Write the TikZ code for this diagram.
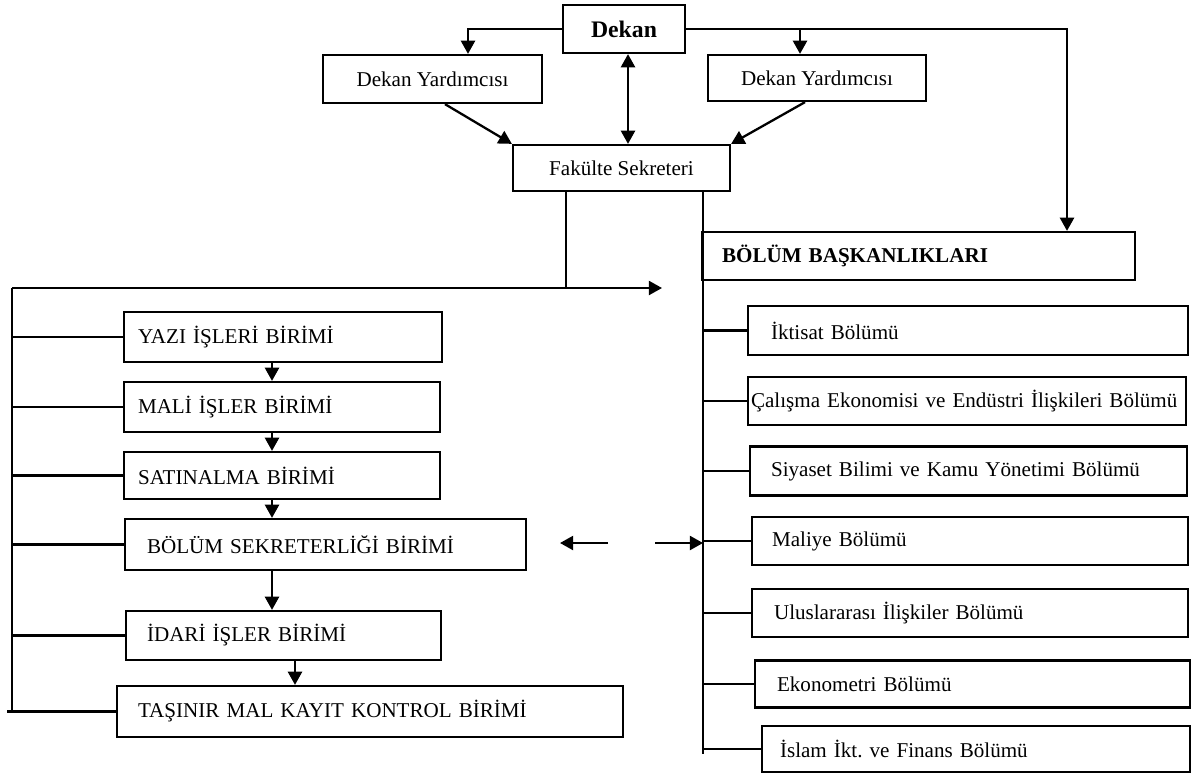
\documentclass[tikz,border=0pt]{standalone}
\usepackage{fontspec}
\setmainfont{Liberation Serif}
\usetikzlibrary{arrows.meta}
\frenchspacing

\begin{document}
\begin{tikzpicture}[x=0.02cm, y=-0.02cm, line width=1.3pt, >={Triangle[length=7.5pt,width=8pt]}]
	\tikzstyle{head}=[rectangle, draw=black, line width=1.3pt, inner sep=0pt, font=\fontsize{12}{14}\selectfont]
	\tikzstyle{unit}=[rectangle, draw=black, line width=1.3pt, inner ysep=0pt, align=left, font=\fontsize{12}{14}\selectfont]
	\useasboundingbox (0,0) rectangle (1192,774);

	\draw node[head, minimum width=2.44cm, minimum height=0.96cm, font=\bfseries\fontsize{13.5}{15}\selectfont] at (624,29) (dekan) {Dekan};
	\draw node[head, minimum width=4.38cm, minimum height=0.96cm] at (432.5,79) (dyL) {Dekan Yardımcısı};
	\draw node[head, minimum width=4.36cm, minimum height=0.92cm] at (817,78) (dyR) {Dekan Yardımcısı};
	\draw node[head, minimum width=4.34cm, minimum height=0.92cm] at (621.5,168) (fak) {Fakülte Sekreteri};

	\draw node[unit, text width=5.80cm, inner xsep=0.28cm, minimum height=1.00cm] at (283,337) (yazi) {YAZI İŞLERİ BİRİMİ};
	\draw node[unit, text width=5.76cm, inner xsep=0.28cm, minimum height=1.00cm] at (282,407) (mali) {MALİ İŞLER BİRİMİ};
	\draw node[unit, text width=5.76cm, inner xsep=0.28cm, minimum height=0.94cm] at (282,475.5) (satin) {SATINALMA BİRİMİ};
	\draw node[unit, text width=7.14cm, inner xsep=0.44cm, minimum height=1.02cm] at (325.5,544.5) (bsek) {BÖLÜM SEKRETERLİĞİ BİRİMİ};
	\draw node[unit, text width=5.46cm, inner xsep=0.42cm, minimum height=0.98cm] at (283.5,635.5) (idari) {İDARİ İŞLER BİRİMİ};
	\draw node[unit, text width=9.28cm, inner xsep=0.42cm, minimum height=1.02cm] at (370,711.5) (tasinir) {TAŞINIR MAL KAYIT KONTROL BİRİMİ};

	\draw node[unit, text width=7.86cm, inner xsep=0.40cm, minimum height=0.96cm, font=\bfseries\fontsize{12}{14}\selectfont] at (918.5,256) (bb) {BÖLÜM BAŞKANLIKLARI};
	\draw node[unit, text width=7.88cm, inner xsep=0.46cm, minimum height=0.98cm] at (968,330.5) (ikt) {İktisat Bölümü};
	\draw node[unit, text width=8.64cm, inner xsep=0.06cm, minimum height=0.96cm] at (967,401) (cal) {Çalışma Ekonomisi ve Endüstri İlişkileri Bölümü};
	\draw node[unit, text width=7.90cm, inner xsep=0.42cm, minimum height=0.98cm] at (968.5,471) (siy) {Siyaset Bilimi ve Kamu Yönetimi Bölümü};
	\draw node[unit, text width=7.92cm, inner xsep=0.40cm, minimum height=0.96cm] at (970,541) (mal) {Maliye Bölümü};
	\draw node[unit, text width=7.84cm, inner xsep=0.44cm, minimum height=0.96cm] at (970,613) (ulu) {Uluslararası İlişkiler Bölümü};
	\draw node[unit, text width=7.82cm, inner xsep=0.44cm, minimum height=0.94cm] at (972.5,684) (eko) {Ekonometri Bölümü};
	\draw node[unit, text width=7.84cm, inner xsep=0.36cm, minimum height=0.92cm] at (976,749) (isl) {İslam İkt. ve Finans Bölümü};

	\coordinate (dl) at (468,0);
	\coordinate (dr) at (800,0);
	\coordinate (br) at (1067,0);
	\coordinate (dm) at (628,0);
	\coordinate (fx) at (566,0);
	\coordinate (cx) at (272,0);
	\coordinate (cx2) at (295,0);
	\coordinate (tb) at (12,288);
	\coordinate (tbend) at (662,288);
	\coordinate (rb) at (703,754);
	\coordinate (lt) at (608,543);
	\coordinate (lh) at (560,543);
	\coordinate (rt) at (655,543);

	\draw [->] (dekan.west) -| (dyL.north -| dl);
	\draw [->] (dekan.east -| dr) -- (dyR.north -| dr);
	\draw [->] (dekan.east) -| (bb.north -| br);
	\draw [<->] (dekan.south -| dm) -- (fak.north -| dm);
	\draw [->] ([xshift=0.25cm]dyL.south) -- (fak.north west);
	\draw [->] ([xshift=-0.24cm]dyR.south) -- (fak.north east);

	\draw (fak.south -| fx) -- (fx |- tb);
	\draw [->] (tb) -- (tbend);
	\draw (fak.south -| rb) -- (rb);
	\draw (tb) -- (tb |- tasinir.west);

	\draw (tb |- yazi.west) -- (yazi.west);
	\draw (tb |- mali.west) -- (mali.west);
	\draw (tb |- satin.west) -- (satin.west);
	\draw (tb |- bsek.west) -- (bsek.west);
	\draw (tb |- idari.west) -- (idari.west);
	\draw ([xshift=-0.1cm]tb |- tasinir.west) -- (tasinir.west);

	\draw [->] (yazi.south -| cx) -- (mali.north -| cx);
	\draw [->] (mali.south -| cx) -- (satin.north -| cx);
	\draw [->] (satin.south -| cx) -- (bsek.north -| cx);
	\draw [->] (bsek.south -| cx) -- (idari.north -| cx);
	\draw [->] (idari.south -| cx2) -- (tasinir.north -| cx2);

	\draw (rb |- ikt.west) -- (ikt.west);
	\draw (rb |- cal.west) -- (cal.west);
	\draw (rb |- siy.west) -- (siy.west);
	\draw (rb |- mal.west) -- (mal.west);
	\draw (rb |- ulu.west) -- (ulu.west);
	\draw (rb |- eko.west) -- (eko.west);
	\draw (rb |- isl.west) -- (isl.west);

	\draw [->] (lt) -- (lh);
	\draw [->] (rt) -- (rt -| rb);
\end{tikzpicture}
\end{document}
